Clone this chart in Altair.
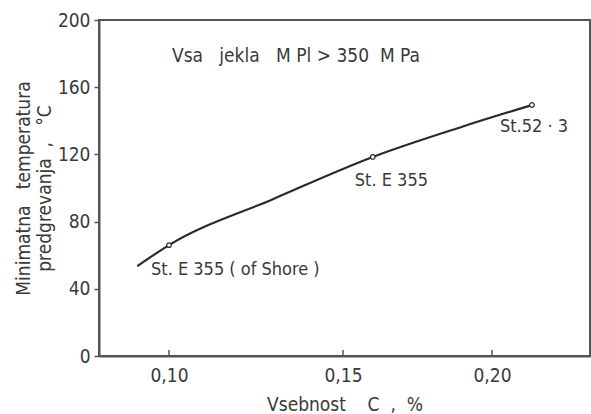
import altair as alt
import pandas as pd

# Carbon content (%) vs. minimum preheating temperature (°C)
curve_c = [0.0909, 0.100, 0.130, 0.160, 0.190, 0.2134]
curve_t = [53.5, 66.0, 93.5, 118.5, 136.5, 149.4]

steel_c = [0.100, 0.160, 0.2134]
steel_t = [66.0, 118.5, 149.4]
steel_names = ["St. E 355 ( of Shore )", "St. E 355", "St.52 · 3"]

x_ticks = [0.10, 0.15, 0.20]
y_ticks = [0, 40, 80, 120, 160, 200]

SP = "\u00a0"  # non-collapsing gap, as in the lettered original
note_text = f"Vsa{SP*3}jekla{SP*3}M Pl{SP}>{SP}350{SP*2}M Pa"
x_title = f"Vsebnost{SP*4}C{SP*2},{SP*2}%"
y_title = [f"Minimatna{SP*3}temperatura", f"predgrevanja{SP*2},{SP*3}°C"]

curve_df = pd.DataFrame({"c": curve_c, "t": curve_t})
steel_df = pd.DataFrame({"c": steel_c, "t": steel_t, "name": steel_names})
tick_df = pd.DataFrame({"c": x_ticks})

W, H = 491, 336
FONT = "DejaVu Sans Condensed"
INK = "#3a3a3a"

# drawn axis is slightly uneven between the labelled ticks
x_scale = alt.Scale(domain=[0.0799, 0.10, 0.15, 0.20, 0.2329],
                    range=[0, 70, 244, 393, W], nice=False, zero=False)
y_scale = alt.Scale(domain=[0, 200], nice=False)

x_enc = alt.X("c:Q", scale=x_scale,
              axis=alt.Axis(values=x_ticks, tickSize=0, grid=False,
                            labelExpr="replace(format(datum.value, '.2f'), '.', ',')",
                            title=x_title, titlePadding=10,
                            labelPadding=10))
y_enc = alt.Y("t:Q", scale=y_scale,
              axis=alt.Axis(values=y_ticks, tickSize=5, grid=False,
                            title=y_title,
                            titlePadding=3, labelPadding=4, titleLineHeight=21))

line = alt.Chart(curve_df).mark_line(
    interpolate="monotone", color="#2b2b2b", strokeWidth=2.2
).encode(x=x_enc, y=y_enc)

pts = alt.Chart(steel_df).mark_point(
    shape="circle", filled=True, fill="white", stroke="#2b2b2b",
    strokeWidth=1.2, size=22, opacity=1
).encode(x="c:Q", y="t:Q")

ticks = alt.Chart(tick_df).mark_rule(color="#555", strokeWidth=1.5).encode(
    x="c:Q", y=alt.value(H - 6), y2=alt.value(H)
)

def label(i, dx, dy):
    return alt.Chart(steel_df.iloc[[i]]).mark_text(
        align="left", baseline="middle", dx=dx, dy=dy,
        font=FONT, fontSize=18, color=INK
    ).encode(x="c:Q", y="t:Q", text="name:N")

lab0 = label(0, -18, 25)
lab1 = label(1, -18, 24)
lab2 = label(2, -32, 22)

note = alt.Chart(pd.DataFrame({"txt": [note_text]})).mark_text(
    align="left", baseline="middle", font=FONT, fontSize=19, color=INK
).encode(x=alt.value(73), y=alt.value(36), text="txt:N")

chart = alt.layer(line, ticks, pts, lab0, lab1, lab2, note).properties(
    width=W, height=H,
    autosize=alt.AutoSizeParams(type="none"),
    padding={"left": 99, "top": 20, "right": 1, "bottom": 58},
    background="white",
).configure_view(
    stroke="#555", strokeWidth=2
).configure_axis(
    domainColor="#555", domainWidth=2, tickColor="#555", tickWidth=1.5,
    labelFont=FONT, labelFontSize=19, labelColor=INK,
    titleFont=FONT, titleFontSize=19, titleColor=INK, titleFontWeight="normal",
)

chart.save("out.html", embed_options={"renderer": "svg", "actions": False})
